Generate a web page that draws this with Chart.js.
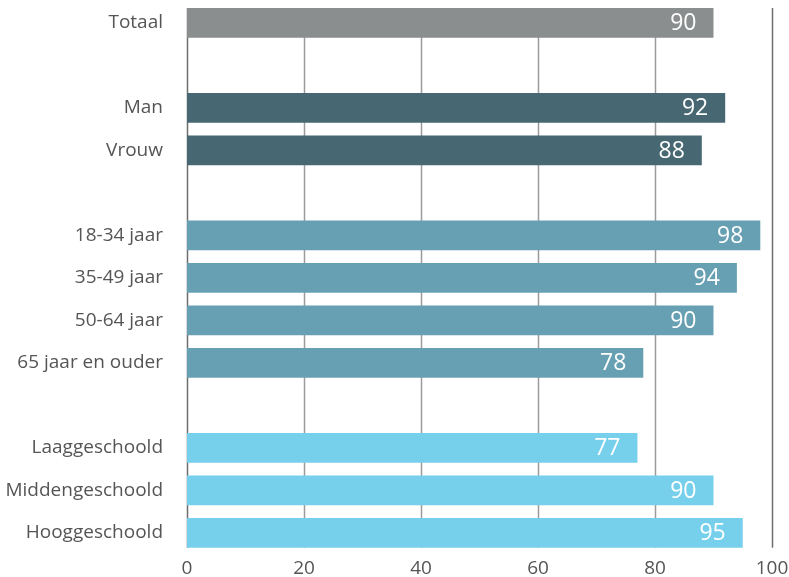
<!DOCTYPE html>
<html>
<head>
<meta charset="utf-8">
<script src="https://cdn.jsdelivr.net/npm/chart.js@4"></script>
<style>
  html, body { margin: 0; padding: 0; background: #fff; }
  .chart__wrapper { width: 789px; height: 577px; }
</style>
</head>
<body>
<div class="chart__wrapper">
  <canvas id="chart"></canvas>
</div>
<script>
  const categories = [
    "Totaal", "",
    "Man", "Vrouw", "",
    "18-34 jaar", "35-49 jaar", "50-64 jaar", "65 jaar en ouder", "",
    "Laaggeschoold", "Middengeschoold", "Hooggeschoold",
  ];
  const values = [90, null, 92, 88, null, 98, 94, 90, 78, null, 77, 90, 95];
  const xTicks = [0, 20, 40, 60, 80, 100];

  const colors = {
    total: "#8b8e8e",
    gender: "#476873",
    age: "#68a0b3",
    education: "#76d0ec",
    text: "#555555",
    grid: "#9b9b9b",
    axis: "#6e6e6e",
  };
  const barColors = [
    colors.total, null,
    colors.gender, colors.gender, null,
    colors.age, colors.age, colors.age, colors.age, null,
    colors.education, colors.education, colors.education,
  ];

  const fontFamily = "'Open Sans', 'Noto Sans', sans-serif";

  // vertical grid lines only span from first bar top to last bar bottom
  const gridPlugin = {
    id: "shortGrid",
    beforeDatasetsDraw(chart) {
      const ctx = chart.ctx;
      const x = chart.scales.x;
      const bars = chart.getDatasetMeta(0).data;
      const first = bars[0];
      const last = bars[bars.length - 1];
      const top = first.y - first.height / 2;
      const bottom = last.y + last.height / 2;
      ctx.save();
      ctx.lineWidth = 1.5;
      xTicks.forEach((t) => {
        const px = Math.round(x.getPixelForValue(t)) + 0.5;
        ctx.strokeStyle = t === 0 || t === 100 ? colors.axis : colors.grid;
        ctx.beginPath();
        ctx.moveTo(px, top);
        ctx.lineTo(px, bottom);
        ctx.stroke();
      });
      ctx.restore();
    },
  };

  const valueLabelPlugin = {
    id: "valueLabels",
    afterDatasetsDraw(chart) {
      const ctx = chart.ctx;
      const meta = chart.getDatasetMeta(0);
      ctx.save();
      ctx.fillStyle = "#ffffff";
      ctx.font = "23px " + fontFamily;
      ctx.textAlign = "right";
      ctx.textBaseline = "middle";
      meta.data.forEach((bar, i) => {
        if (values[i] === null) return;
        ctx.fillText(String(values[i]), bar.x - 17, bar.y + 1);
      });
      ctx.restore();
    },
  };

  new Chart(document.getElementById("chart"), {
    type: "bar",
    data: {
      labels: categories,
      datasets: [
        {
          data: values,
          backgroundColor: barColors,
          categoryPercentage: 1,
          barPercentage: 0.7,
        },
      ],
    },
    options: {
      indexAxis: "y",
      responsive: true,
      maintainAspectRatio: false,
      animation: false,
      layout: {
        padding: { top: 1.65, right: 17, left: 0, bottom: 0 },
      },
      scales: {
        x: {
          min: 0,
          max: 100,
          afterBuildTicks: (scale) => {
            scale.ticks = xTicks.map((v) => ({ value: v }));
          },
          afterFit: (scale) => {
            scale.height = 22.85;
            scale.paddingLeft = 0;
            scale.paddingRight = 0;
          },
          grid: { display: false, drawTicks: false },
          border: { display: false },
          ticks: {
            padding: 3,
            color: colors.text,
            font: { family: fontFamily, size: 19 },
          },
        },
        y: {
          afterFit: (scale) => {
            scale.width = 187;
            scale.paddingTop = 0;
            scale.paddingBottom = 0;
          },
          grid: { display: false, drawTicks: false },
          border: { display: false },
          ticks: {
            padding: 24,
            autoSkip: false,
            color: colors.text,
            font: { family: fontFamily, size: 19 },
          },
        },
      },
      plugins: {
        legend: { display: false },
        tooltip: { enabled: false },
        title: { display: false },
      },
    },
    plugins: [gridPlugin, valueLabelPlugin],
  });
</script>
</body>
</html>
